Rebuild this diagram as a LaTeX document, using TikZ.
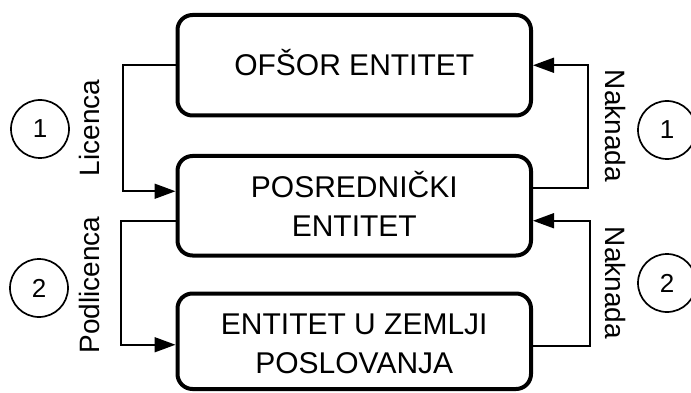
\documentclass[tikz,border=0pt]{standalone}
\usepackage{fontspec}
\setmainfont{Liberation Sans}
\usetikzlibrary{arrows.meta}
\begin{document}
\begin{tikzpicture}[x=1pt,y=-1pt,
  box/.style={draw, line width=4pt, rounded corners=15pt, minimum width=353.5pt, align=center,
    font=\fontsize{30}{39}\selectfont, inner sep=0pt, text depth=0pt},
  conn/.style={line width=1.7pt, -{Triangle[length=21pt,width=15pt]}},
  lbl/.style={font=\fontsize{28}{28}\selectfont, inner sep=0pt},
  num/.style={draw, circle, line width=1.7pt, minimum size=58pt, inner sep=0pt, font=\fontsize{26}{26}\selectfont}]
\useasboundingbox (0,0) rectangle (691,393);
\node[box, minimum height=100.5pt, text height=21.5pt] (b1) at (354.25,65.25) {OFŠOR ENTITET};
\node[box, minimum height=99.5pt, text height=60.5pt] (b2) at (354.25,205.75) {POSREDNIČKI\\ENTITET};
\node[box, minimum height=95.5pt, text height=65pt] (b3) at (354.25,341.25) {ENTITET U ZEMLJI\\POSLOVANJA};
\coordinate (l1) at (123,0);
\coordinate (l2) at (121,0);
\coordinate (r1) at (588,0);
\coordinate (r2) at (590,0);
\draw[conn] (b1.west) -- (b1.west -| l1) |- ([yshift=14.5pt]b2.west);
\draw[conn] ([yshift=-15pt]b2.west) -- ([yshift=-15pt]b2.west -| l2) |- ([yshift=-3.5pt]b3.west);
\draw[conn] ([yshift=17.5pt]b2.east) -- ([yshift=17.5pt]b2.east -| r1) |- (b1.east);
\draw[conn] ([yshift=-5pt]b3.east) -- ([yshift=-5pt]b3.east -| r2) |- ([yshift=-15pt]b2.east);
\node[lbl, rotate=90] (t1) at (89,128) {Licenca};
\node[lbl, rotate=90] (t2) at (89,285) {Podlicenca};
\node[lbl, rotate=-90] (t3) at (616,126) {Naknada};
\node[lbl, rotate=-90] (t4) at (616,283) {Naknada};
\node[num] (c1) at (40,129) {1};
\node[num] (c2) at (39,288) {2};
\node[num] (c3) at (667,130) {1};
\node[num] (c4) at (667,283) {2};
\end{tikzpicture}
\end{document}
